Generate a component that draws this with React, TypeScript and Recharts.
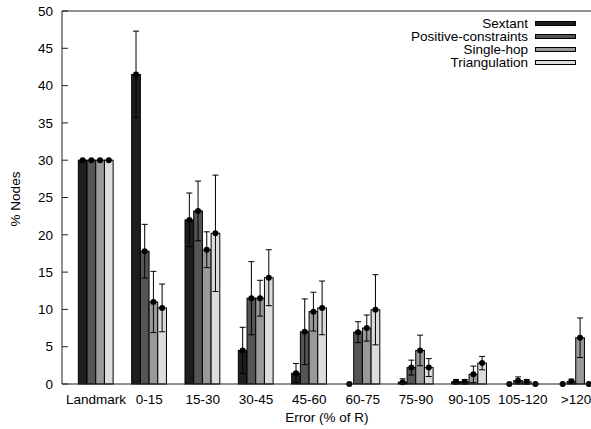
import { Bar, BarChart, ErrorBar, Legend, XAxis, YAxis } from 'recharts'

const categories = ['Landmark', '0-15', '15-30', '30-45', '45-60', '60-75', '75-90', '90-105', '105-120', '>120']

const sextant = [30, 41.5, 22.0, 4.5, 1.45, 0, 0.25, 0.3, 0, 0]
const sextantErr = [0, 5.8, 3.6, 3.1, 1.3, 0, 0.45, 0.3, 0, 0]
const positive = [30, 17.8, 23.2, 11.5, 7.0, 6.95, 2.2, 0.3, 0.45, 0.35]
const positiveErr = [0, 3.6, 4.0, 4.9, 4.4, 1.4, 1.0, 0.3, 0.5, 0.3]
const singleHop = [30, 11.0, 18.0, 11.5, 9.7, 7.5, 4.5, 1.3, 0.3, 6.2]
const singleHopErr = [0, 4.1, 2.4, 2.4, 2.6, 1.75, 2.05, 1.1, 0.3, 2.65]
const triangulation = [30, 10.2, 20.2, 14.25, 10.2, 9.95, 2.2, 2.8, 0, 0]
const triangulationErr = [0, 3.2, 7.8, 3.75, 3.6, 4.7, 1.2, 0.9, 0, 0]

const yTicks = [0, 5, 10, 15, 20, 25, 30, 35, 40, 45, 50]
const xTicks = categories.map((_, i) => i)

const series = [
  { key: 'sextant', name: 'Sextant', color: '#1e1e1e', values: sextant, errs: sextantErr },
  { key: 'positive', name: 'Positive-constraints', color: '#555555', values: positive, errs: positiveErr },
  { key: 'singleHop', name: 'Single-hop', color: '#999999', values: singleHop, errs: singleHopErr },
  { key: 'triangulation', name: 'Triangulation', color: '#dcdcdc', values: triangulation, errs: triangulationErr },
]
const seriesOrder = series.map((s) => s.name)

const data = categories.map((label, i) => {
  const row: Record<string, unknown> = { idx: i, label }
  series.forEach((s) => {
    const v = s.values[i]
    const e = s.errs[i]
    row[s.key] = v
    row[s.key + 'Err'] = [Math.min(e, v), e]
  })
  return row
})

const font = '"Liberation Sans", Arial, sans-serif'
const fontSize = 13.5
const axisColor = '#222'

function DotBar(props: any) {
  const { x, y, width, height, fill } = props
  return (
    <g>
      {height > 0 && (
        <rect x={x} y={y} width={width} height={height} fill={fill} stroke="#000" strokeWidth={1} />
      )}
      <circle cx={x + width / 2} cy={y} r={3} fill="#000" />
    </g>
  )
}

function LegendBox({ payload }: any) {
  const items = [...(payload ?? [])].sort(
    (a: any, b: any) => seriesOrder.indexOf(a.value) - seriesOrder.indexOf(b.value),
  )
  return (
    <div style={{ fontFamily: font, fontSize, color: '#000' }}>
      {items.map((p: any) => (
        <div
          key={p.value}
          style={{ display: 'flex', justifyContent: 'flex-end', alignItems: 'center', height: 13, lineHeight: '13px' }}
        >
          <span style={{ lineHeight: '13px' }}>{p.value}</span>
          <span
            style={{
              display: 'inline-block',
              width: 39,
              height: 3,
              background: p.color,
              border: '1px solid #000',
              marginLeft: 7,
            }}
          />
        </div>
      ))}
    </div>
  )
}

export default function App() {
  return (
    <div style={{ position: 'absolute', left: 0, top: 0, width: 591, height: 429, overflow: 'hidden', background: '#fff' }}>
      <BarChart
        width={600}
        height={429}
        data={data}
        margin={{ top: 0, right: 0, bottom: 0, left: 0 }}
        barGap={0}
        barSize={8.7}
      >
        <XAxis
          dataKey="idx"
          type="number"
          domain={[-0.6375, 9.3]}
          ticks={xTicks}
          allowDataOverflow
          height={45}
          tickLine={false}
          tickSize={6}
          tickMargin={4}
          tickFormatter={(v: number) => categories[v] ?? ''}
          tick={{ fontSize, fill: '#000', fontFamily: font }}
          axisLine={{ stroke: axisColor }}
          interval={0}
          label={{
            value: 'Error (% of R)',
            position: 'insideBottom',
            offset: 7,
            fontSize,
            fill: '#000',
            fontFamily: font,
          }}
        />
        <XAxis
          xAxisId="top"
          orientation="top"
          dataKey="idx"
          type="number"
          domain={[-0.6375, 9.3]}
          ticks={xTicks}
          allowDataOverflow
          height={11}
          tick={false}
          tickSize={-6}
          tickLine={{ stroke: axisColor }}
          axisLine={{ stroke: axisColor }}
          interval={0}
        />
        <YAxis
          domain={[0, 50]}
          ticks={yTicks}
          width={62}
          tickSize={-6}
          tickMargin={15}
          interval={0}
          tick={{ fontSize, fill: '#000', fontFamily: font }}
          tickLine={{ stroke: axisColor }}
          axisLine={{ stroke: axisColor }}
          label={{
            content: () => (
              <text
                transform="translate(19.5,199) rotate(-90)"
                textAnchor="middle"
                fontSize={fontSize}
                fontFamily={font}
                fill="#000"
              >
                % Nodes
              </text>
            ),
          }}
        />
        <YAxis
          yAxisId="right"
          orientation="right"
          domain={[0, 50]}
          ticks={yTicks}
          width={8}
          tick={false}
          tickSize={-6}
          interval={0}
          tickLine={{ stroke: axisColor }}
          axisLine={{ stroke: axisColor }}
        />
        <Legend
          layout="horizontal"
          align="center"
          verticalAlign="middle"
          content={<LegendBox />}
          wrapperStyle={{ top: 17, right: 24, left: 'auto', width: 'auto' }}
        />
        {series.map((s) => (
          <Bar
            key={s.key}
            dataKey={s.key}
            name={s.name}
            fill={s.color}
            shape={<DotBar />}
            isAnimationActive={false}
          >
            <ErrorBar
              dataKey={s.key + 'Err'}
              direction="y"
              width={3}
              stroke="#000"
              strokeWidth={1}
              isAnimationActive={false}
            />
          </Bar>
        ))}
      </BarChart>
    </div>
  )
}
